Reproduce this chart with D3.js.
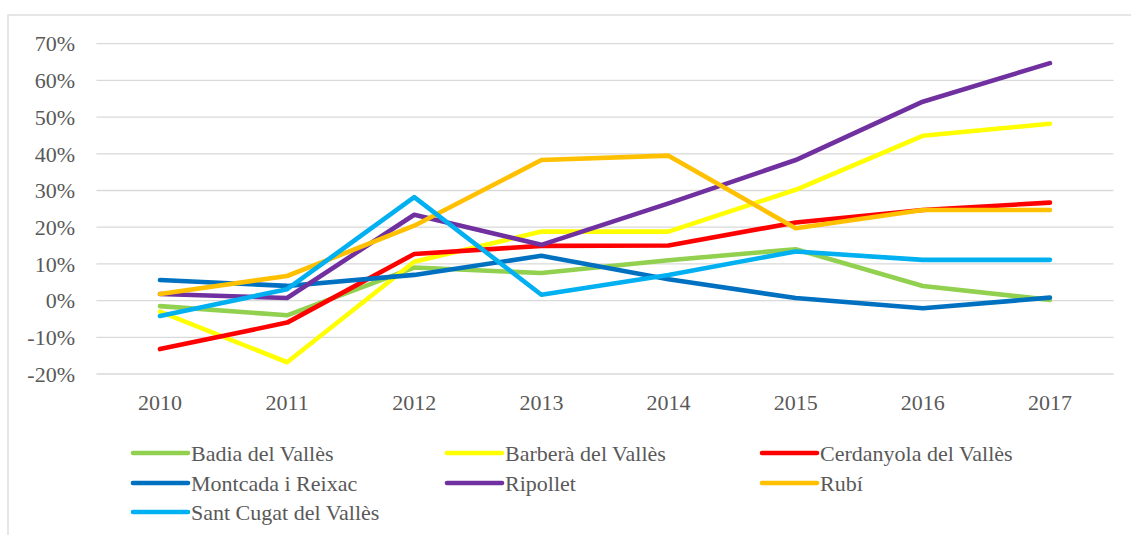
<!DOCTYPE html>
<html><head><meta charset="utf-8">
<script src="https://cdn.jsdelivr.net/npm/d3@7"></script>
<style>html,body{margin:0;padding:0;background:#fff;overflow:hidden}</style>
</head><body>
<svg id="c" width="1131" height="535"></svg>
<script>
const years = ["2010","2011","2012","2013","2014","2015","2016","2017"];
const yTicks = [-20,-10,0,10,20,30,40,50,60,70];
const seriesNames = ["Badia del Vallès","Barberà del Vallès","Cerdanyola del Vallès","Montcada i Reixac","Ripollet","Rubí","Sant Cugat del Vallès"];
const colors = ["#92d050","#ffff00","#ff0000","#0070c0","#7030a0","#ffc000","#00b0f0"];
const badia      = [-1.5,-4.0, 9.0, 7.5,11.0,14.0, 4.0, 0.2];
const barbera    = [-3.0,-16.8,10.6,18.8,18.8,30.2,44.9,48.2];
const cerdanyola = [-13.2,-6.0,12.7,14.9,15.0,21.3,24.7,26.7];
const montcada   = [ 5.6, 4.0, 7.0,12.2, 5.8, 0.7,-2.1, 0.8];
const ripollet   = [ 1.8, 0.7,23.4,15.2,26.5,38.3,54.2,64.7];
const rubi       = [ 1.8, 6.7,20.4,38.3,39.5,19.7,24.7,24.7];
const santcugat  = [-4.2, 3.1,28.2, 1.6, 7.0,13.4,11.1,11.1];
const seriesValues = [badia,barbera,cerdanyola,montcada,ripollet,rubi,santcugat];

const svg = d3.select("#c");
const font = "'Liberation Serif', 'DejaVu Serif', serif";
const textColor = "#595959";

svg.append("rect").attr("x",8).attr("y",15).attr("width",1140).attr("height",540)
  .attr("fill","#fff").attr("stroke","#d9d9d9").attr("stroke-width",1.3);

const x = d3.scalePoint().domain(years).range([96.4,1113.5]).padding(0.5);
const y = d3.scaleLinear().domain([-20,70]).range([374,43.7]);

// gridlines
svg.append("g").selectAll("line").data(yTicks).join("line")
  .attr("x1",96.4).attr("x2",1113.5)
  .attr("y1",d=>y(d)).attr("y2",d=>y(d))
  .attr("stroke","#d9d9d9").attr("stroke-width",1.3);

// y labels
svg.append("g").selectAll("text").data(yTicks).join("text")
  .attr("x",75).attr("y",d=>y(d)).attr("dy","0.35em")
  .attr("text-anchor","end").attr("font-family",font).attr("font-size",22)
  .attr("fill",textColor).text(d=>d+"%");

// x labels
svg.append("g").selectAll("text").data(years).join("text")
  .attr("x",d=>x(d)).attr("y",402).attr("dy","0.35em")
  .attr("text-anchor","middle").attr("font-family",font).attr("font-size",22)
  .attr("fill",textColor).text(d=>d);

const line = d3.line().x((d,i)=>x(years[i])).y(d=>y(d));
seriesValues.forEach((vals,k)=>{
  svg.append("path").datum(vals).attr("d",line)
    .attr("fill","none").attr("stroke",colors[k]).attr("stroke-width",4.6)
    .attr("stroke-linecap","round").attr("stroke-linejoin","round");
});

// legend
const colX = [133,447,762];
const rowY = [453,483,512];
seriesNames.forEach((name,k)=>{
  const cx = colX[k%3], cy = rowY[Math.floor(k/3)];
  svg.append("line").attr("x1",cx).attr("x2",cx+55).attr("y1",cy).attr("y2",cy)
    .attr("stroke",colors[k]).attr("stroke-width",4.6).attr("stroke-linecap","round");
  svg.append("text").attr("x",cx+58).attr("y",cy).attr("dy","0.35em")
    .attr("font-family",font).attr("font-size",22).attr("fill",textColor).text(name);
});
</script>
</body></html>
